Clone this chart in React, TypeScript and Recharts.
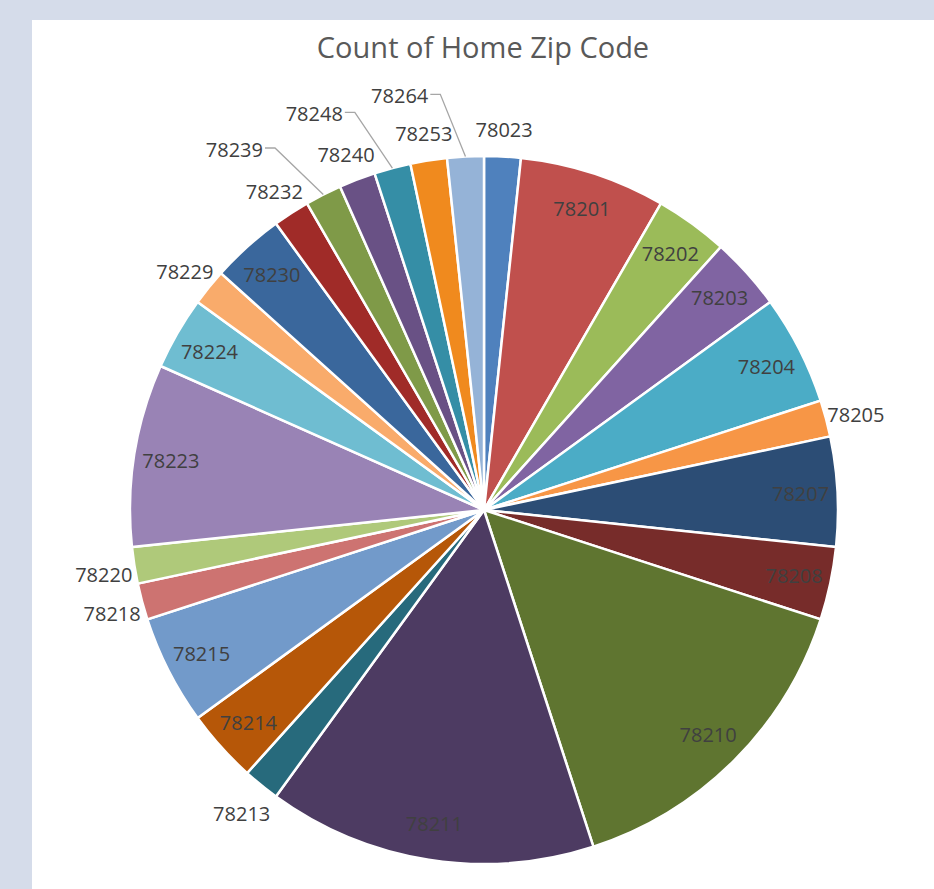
import React from 'react';
import { PieChart, Pie, Cell } from 'recharts';

// Zip codes in the order Excel draws them (clockwise from 12 o'clock)
const zips = [
  '78023', '78201', '78202', '78203', '78204', '78205', '78207', '78208',
  '78210', '78211', '78213', '78214', '78215', '78218', '78220', '78223',
  '78224', '78229', '78230', '78232', '78239', '78240', '78248', '78253', '78264'
];

// Count of home zip code per slice
const counts = [1, 4, 2, 2, 3, 1, 3, 2, 9, 9, 1, 2, 3, 1, 1, 5, 2, 1, 2, 1, 1, 1, 1, 1, 1];

const colors = [
  '#4f81bd', '#c0504d', '#9bbb59', '#8064a2', '#4bacc6', '#f79646', '#2c4d75', '#772c2a',
  '#5f7530', '#4d3b62', '#276a7c', '#b65708', '#729aca', '#cd7371', '#afc97a', '#9983b5',
  '#6fbdd1', '#f9ab6b', '#3a679c', '#a02b28', '#7f9a48', '#695185', '#358ea6', '#f08a1e', '#95b3d7'
];

// labels that Excel pushed out with a leader line
const leaderZips = ['78239', '78248', '78264'];

const data = zips.map((z, i) => ({ name: z, value: counts[i] }));

const RADIAN = Math.PI / 180;
const labelFont = '"Open Sans", sans-serif';

const renderLabel = (props: any) => {
  const { cx, cy, midAngle, outerRadius, index } = props;
  const zip = zips[index];
  const pos = (r: number, a: number) => ({
    x: cx + r * Math.cos(-a * RADIAN),
    y: cy + r * Math.sin(-a * RADIAN)
  });

  if (counts[index] >= 2) {
    const p = pos(outerRadius - 37, midAngle);
    return (
      <text key={`l-${index}`} x={p.x} y={p.y} fill="#404040" textAnchor="middle"
        dominantBaseline="central" fontSize={20} fontFamily={labelFont}>
        {zip}
      </text>
    );
  }

  if (leaderZips.includes(zip)) {
    const start = pos(outerRadius, midAngle);
    const elbow = pos(outerRadius + 64, midAngle + 3);
    return (
      <g key={`l-${index}`}>
        <polyline
          points={`${start.x},${start.y} ${elbow.x},${elbow.y} ${elbow.x - 10},${elbow.y}`}
          fill="none" stroke="#a6a6a6" strokeWidth={1.3} />
        <text x={elbow.x - 12} y={elbow.y + 1} fill="#404040" textAnchor="end"
          dominantBaseline="central" fontSize={20} fontFamily={labelFont}>
          {zip}
        </text>
      </g>
    );
  }

  const p = pos(outerRadius + 31, midAngle);
  return (
    <text key={`l-${index}`} x={p.x} y={p.y + 4} fill="#404040" textAnchor="middle"
      dominantBaseline="central" fontSize={20} fontFamily={labelFont}>
      {zip}
    </text>
  );
};

export default function App() {
  return (
    <div style={{ position: 'absolute', left: 0, top: 0, width: 934, height: 889, background: '#d5dcea', overflow: 'hidden' }}>
      <div style={{ position: 'absolute', left: 32, top: 20, width: 902, height: 869, background: '#fff' }}>
        <div style={{
          position: 'absolute', left: 0, top: 12, width: 902, textAlign: 'center',
          fontFamily: labelFont, fontSize: 29, lineHeight: '29px', color: '#595959'
        }}>
          Count of Home Zip Code
        </div>
        <PieChart width={902} height={869} style={{ position: 'absolute', left: 0, top: 0 }}>
          <Pie
            data={data}
            dataKey="value"
            nameKey="name"
            cx={447}
            cy={485}
            outerRadius={354}
            startAngle={90}
            endAngle={-270}
            stroke="#fff"
            strokeWidth={2.5}
            label={renderLabel}
            labelLine={false}
            isAnimationActive={false}
          >
            {data.map((d, i) => (
              <Cell key={`cell-${i}`} fill={colors[i]} />
            ))}
          </Pie>
        </PieChart>
      </div>
    </div>
  );
}
